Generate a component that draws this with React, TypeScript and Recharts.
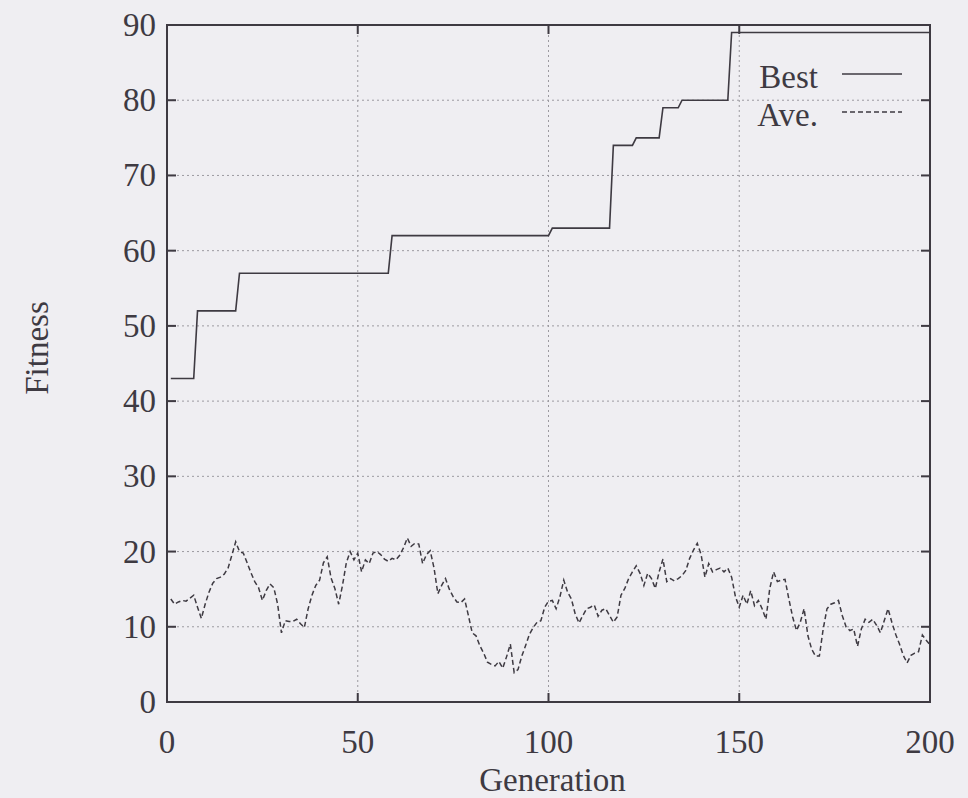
import React from 'react';
import { LineChart, Line, XAxis, YAxis, CartesianGrid, ReferenceArea, Legend } from 'recharts';

// generation numbers (x axis)
const generations = Array.from({ length: 200 }, (_, i) => i + 1);

// best fitness per generation
const bestFitness = [
  43, 43, 43, 43, 43, 43, 43, 52, 52, 52,
  52, 52, 52, 52, 52, 52, 52, 52, 57, 57,
  57, 57, 57, 57, 57, 57, 57, 57, 57, 57,
  57, 57, 57, 57, 57, 57, 57, 57, 57, 57,
  57, 57, 57, 57, 57, 57, 57, 57, 57, 57,
  57, 57, 57, 57, 57, 57, 57, 57, 62, 62,
  62, 62, 62, 62, 62, 62, 62, 62, 62, 62,
  62, 62, 62, 62, 62, 62, 62, 62, 62, 62,
  62, 62, 62, 62, 62, 62, 62, 62, 62, 62,
  62, 62, 62, 62, 62, 62, 62, 62, 62, 62,
  63, 63, 63, 63, 63, 63, 63, 63, 63, 63,
  63, 63, 63, 63, 63, 63, 74, 74, 74, 74,
  74, 74, 75, 75, 75, 75, 75, 75, 75, 79,
  79, 79, 79, 79, 80, 80, 80, 80, 80, 80,
  80, 80, 80, 80, 80, 80, 80, 89, 89, 89,
  89, 89, 89, 89, 89, 89, 89, 89, 89, 89,
  89, 89, 89, 89, 89, 89, 89, 89, 89, 89,
  89, 89, 89, 89, 89, 89, 89, 89, 89, 89,
  89, 89, 89, 89, 89, 89, 89, 89, 89, 89,
  89, 89, 89, 89, 89, 89, 89, 89, 89, 89,
];

// average fitness per generation
const aveFitness = [
  13.7, 13.0, 13.3, 13.5, 13.4, 13.8, 14.2, 12.6, 11.1, 13.0,
  14.6, 15.8, 16.4, 16.6, 17.0, 17.8, 19.5, 21.3, 20.0, 19.8,
  18.5, 17.2, 16.0, 15.2, 13.5, 14.8, 15.7, 15.2, 13.0, 9.2,
  10.8, 10.7, 10.7, 11.0, 10.4, 9.9, 12.4, 14.2, 15.5, 16.2,
  18.5, 19.3, 16.5, 15.1, 13.0, 15.5, 18.5, 20.0, 18.9, 19.8,
  17.3, 18.9, 18.4, 19.8, 20.0, 19.6, 19.0, 18.7, 19.1, 18.9,
  19.5, 20.5, 21.8, 20.7, 21.1, 21.0, 18.4, 19.6, 20.1, 17.8,
  14.4, 15.5, 16.4, 15.0, 14.0, 13.3, 13.2, 13.7, 11.5, 9.2,
  8.8, 7.5, 6.5, 5.3, 5.0, 4.8, 5.4, 4.5, 6.0, 7.7,
  3.9, 4.3, 6.1, 7.5, 9.0, 9.9, 10.6, 10.8, 12.6, 13.4,
  13.5, 12.4, 14.0, 16.2, 14.6, 13.7, 11.7, 10.5, 11.5, 12.4,
  12.6, 12.9, 11.4, 12.2, 12.4, 11.5, 10.6, 11.3, 14.2, 15.1,
  16.4, 17.3, 18.1, 17.1, 15.5, 17.1, 16.4, 15.1, 17.3, 19.0,
  16.0, 16.4, 16.1, 16.4, 16.8, 17.5, 19.1, 20.2, 21.1, 19.6,
  16.6, 18.4, 17.3, 17.6, 17.8, 17.3, 17.8, 16.6, 14.0, 12.6,
  14.2, 13.0, 14.8, 12.8, 13.5, 12.4, 11.0, 15.1, 17.3, 16.0,
  16.2, 16.3, 13.7, 11.3, 9.5, 10.6, 12.4, 8.8, 7.0, 6.1,
  6.1, 9.7, 12.4, 13.0, 13.2, 13.5, 11.5, 10.0, 9.5, 9.7,
  7.4, 9.7, 11.0, 10.6, 11.0, 10.2, 9.2, 10.8, 12.4, 10.6,
  9.0, 7.7, 6.2, 5.2, 6.2, 6.5, 6.7, 8.9, 8.2, 7.6,
];

const xTicks = [0, 50, 100, 150, 200];
const yTicks = [0, 10, 20, 30, 40, 50, 60, 70, 80, 90];

const data = generations.map((g, i) => ({ gen: g, best: bestFitness[i], ave: aveFitness[i] }));

const W = 968;
const H = 798;
const TOP = 25;
const RIGHT = 38;
const Y_W = 167;
const X_H = 96;
const PLOT_TOP = TOP;
const PLOT_BOTTOM = H - X_H;
const PLOT_LEFT = Y_W;
const PLOT_RIGHT = W - RIGHT;

const INK = '#3e3a42';
const FONT = '"Liberation Serif", "DejaVu Serif", serif';
const FS = 33;

const XTick = ({ x, y, payload }: any) => {
  const inner = payload.value !== 0 && payload.value !== 200;
  return (
    <g>
      {inner && <line x1={x} y1={PLOT_BOTTOM} x2={x} y2={PLOT_BOTTOM - 9} stroke={INK} strokeWidth={2} />}
      {inner && <line x1={x} y1={PLOT_TOP} x2={x} y2={PLOT_TOP + 9} stroke={INK} strokeWidth={2} />}
      <text x={x} y={y + 51} textAnchor="middle" fontFamily={FONT} fontSize={FS} fill={INK}>
        {payload.value}
      </text>
    </g>
  );
};

const YTick = ({ x, y, payload }: any) => {
  const inner = payload.value !== 0 && payload.value !== 90;
  return (
    <g>
      {inner && <line x1={PLOT_LEFT} y1={y} x2={PLOT_LEFT + 9} y2={y} stroke={INK} strokeWidth={2} />}
      {inner && <line x1={PLOT_RIGHT - 9} y1={y} x2={PLOT_RIGHT} y2={y} stroke={INK} strokeWidth={2} />}
      <text x={x - 11} y={y + 11} textAnchor="end" fontFamily={FONT} fontSize={FS} fill={INK}>
        {payload.value}
      </text>
    </g>
  );
};

const LegendBox = () => (
  <svg width={200} height={90}>
    <text x={88} y={38} textAnchor="end" fontFamily={FONT} fontSize={FS} fill={INK}>Best</text>
    <line x1={112} y1={24} x2={172} y2={24} stroke={INK} strokeWidth={1.6} />
    <text x={88} y={76} textAnchor="end" fontFamily={FONT} fontSize={FS} fill={INK}>Ave.</text>
    <line x1={112} y1={62} x2={172} y2={62} stroke={INK} strokeWidth={1.5} strokeDasharray="5 3" />
  </svg>
);

export default function App() {
  return (
    <div style={{ width: W, height: H, background: '#efeef2' }}>
      <style>{'body{margin:0;background:#efeef2}'}</style>
      <LineChart width={W} height={H} data={data} margin={{ top: TOP, right: RIGHT, left: 0, bottom: 0 }}>
        <CartesianGrid stroke="#9c9aa0" strokeDasharray="2 3" />
        <XAxis
          type="number"
          dataKey="gen"
          domain={[0, 200]}
          ticks={xTicks}
          height={X_H}
          tickSize={0}
          tickMargin={0}
          axisLine={false}
          tickLine={false}
          tick={<XTick />}
          label={() => (
            <text x={(PLOT_LEFT + PLOT_RIGHT) / 2 + 4} y={791} textAnchor="middle" fontFamily={FONT} fontSize={FS} fill={INK}>
              Generation
            </text>
          )}
        />
        <YAxis
          type="number"
          domain={[0, 90]}
          ticks={yTicks}
          width={Y_W}
          tickSize={0}
          tickMargin={0}
          axisLine={false}
          tickLine={false}
          tick={<YTick />}
          label={() => (
            <text
              x={37}
              y={348}
              textAnchor="middle"
              dominantBaseline="central"
              transform="rotate(-90 37 348)"
              fontFamily={FONT}
              fontSize={FS}
              fill={INK}
            >
              Fitness
            </text>
          )}
        />
        <ReferenceArea x1={0} x2={200} y1={0} y2={90} fill="none" stroke={INK} strokeWidth={2} />
        <Line type="linear" dataKey="best" name="Best" stroke={INK} strokeWidth={1.6} dot={false} isAnimationActive={false} />
        <Line
          type="linear"
          dataKey="ave"
          name="Ave."
          stroke={INK}
          strokeWidth={1.5}
          strokeDasharray="5 3"
          dot={false}
          isAnimationActive={false}
        />
        <Legend
          layout="horizontal"
          verticalAlign="middle"
          content={() => <LegendBox />}
          wrapperStyle={{ position: 'absolute', left: 730, top: 50, width: 200, height: 90 }}
        />
      </LineChart>
    </div>
  );
}
